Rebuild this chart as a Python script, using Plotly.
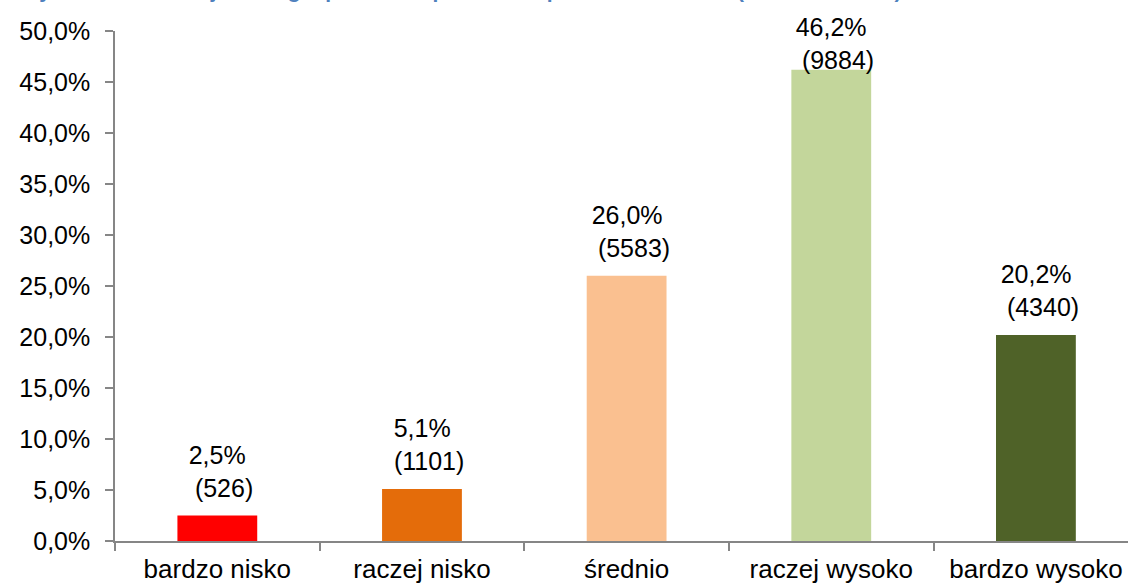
import plotly.graph_objects as go

categories = ["bardzo nisko", "raczej nisko", "średnio", "raczej wysoko", "bardzo wysoko"]
percent_values = [2.5, 5.1, 26.0, 46.2, 20.2]
counts = [526, 1101, 5583, 9884, 4340]
bar_colors = ["#FF0000", "#E46C0A", "#FAC090", "#C3D69B", "#4F6228"]
y_tickvals = [0, 5, 10, 15, 20, 25, 30, 35, 40, 45, 50]
y_ticktext = ["0,0%", "5,0%", "10,0%", "15,0%", "20,0%", "25,0%", "30,0%", "35,0%", "40,0%", "45,0%", "50,0%"]
title_text = "Rysunek 1. Ocena jakości gospodarki odpadami w opinii mieszkańców (liczba wskazań)"

FONT = "Liberation Sans, Arial, sans-serif"
FS = 25

fig = go.Figure()
fig.add_trace(go.Bar(
    x=categories,
    y=percent_values,
    marker=dict(color=bar_colors, line=dict(width=0)),
    width=0.39,
    hoverinfo="skip",
))

label_shift = [12, 12, 12, -6, 12]
for cat, v, c, ys in zip(categories, percent_values, counts, label_shift):
    pct = f"{v:.1f}".replace(".", ",") + "%"
    fig.add_annotation(
        x=cat, y=v, xref="x", yref="y",
        text=f"{pct}<br>&nbsp;&nbsp;({c})",
        showarrow=False, yanchor="bottom", yshift=ys,
        align="center",
        font=dict(family=FONT, size=FS, color="#000000"),
    )

fig.add_annotation(
    x=0.022, y=1, xref="paper", yref="paper",
    xanchor="left", yanchor="middle", yshift=41, xshift=-115,
    text=f"<b>{title_text}</b>", showarrow=False,
    font=dict(family=FONT, size=21, color="#4F81BD"),
)

fig.update_layout(
    width=1128, height=586,
    margin=dict(l=115, r=0, t=31, b=45, autoexpand=False),
    paper_bgcolor="white", plot_bgcolor="white",
    showlegend=False,
    font=dict(family=FONT, size=FS, color="#000000"),
)
fig.update_xaxes(
    type="category",
    range=[-0.5, 4.45],
    tickson="boundaries",
    automargin=False,
    ticks="outside", ticklen=8, tickcolor="#868686", tickwidth=1.5,
    showline=True, linecolor="#868686", linewidth=1.5,
    showgrid=False, zeroline=False,
    ticklabelstandoff=4,
    tickfont=dict(family=FONT, size=26, color="#000000"),
)
fig.update_yaxes(
    range=[0, 50],
    tickvals=y_tickvals,
    ticktext=y_ticktext,
    automargin=False,
    ticks="outside", ticklen=8, tickcolor="#868686", tickwidth=1.5,
    showline=True, linecolor="#868686", linewidth=1.5,
    showgrid=False, zeroline=False,
    ticklabelstandoff=10,
    tickfont=dict(family=FONT, size=FS, color="#000000"),
)

fig.write_html("out.html")
